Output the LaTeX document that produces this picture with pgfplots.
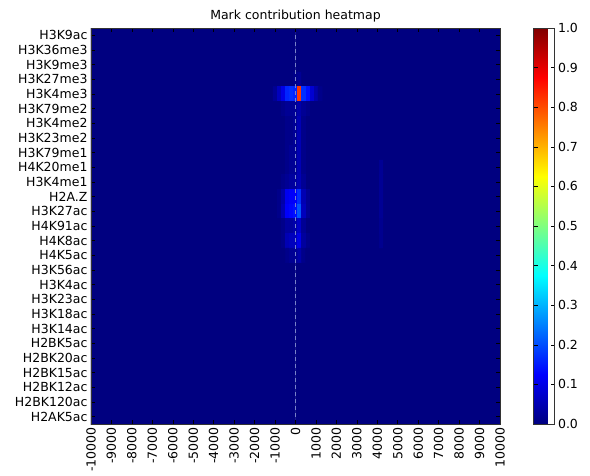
\documentclass[border=0pt]{standalone}
\usepackage{fontspec}
\setmainfont{DejaVu Sans}
\usepackage{pgfplots}
\pgfplotsset{compat=1.18}
\newcommand\lab{\fontsize{12.5}{15}\selectfont}
\pgfplotsset{/pgf/number format/assume math mode=true}
\definecolor{dashcol}{RGB}{120,130,200}
\begin{document}
\begin{tikzpicture}
\begin{axis}[
  name=main,
  scale only axis,
  width=409pt, height=396pt,
  xmin=-10000, xmax=10000,
  ymin=-0.5, ymax=26.5,
  y dir=reverse,
  enlargelimits=false,
  axis on top,
  colormap/jet,
  point meta min=0, point meta max=1,
  xtick={-10000,-9000,-8000,-7000,-6000,-5000,-4000,-3000,-2000,-1000,0,1000,2000,3000,4000,5000,6000,7000,8000,9000,10000},
  scaled x ticks=false,
  xticklabel style={rotate=90, anchor=east, font=\lab, /pgf/number format/.cd, fixed, set thousands separator={}},
  ytick={0,...,26},
  yticklabels={H3K9ac,H3K36me3,H3K9me3,H3K27me3,H3K4me3,H3K79me2,H3K4me2,H3K23me2,H3K79me1,H4K20me1,H3K4me1,H2A.Z,H3K27ac,H4K91ac,H4K8ac,H4K5ac,H3K56ac,H3K4ac,H3K23ac,H3K18ac,H3K14ac,H2BK5ac,H2BK20ac,H2BK15ac,H2BK12ac,H2BK120ac,H2AK5ac},
  yticklabel style={font=\lab},
  tick align=inside,
  major tick length=4pt,
  tick style={black, line width=0.5pt},
  axis line style={line width=0.6pt, black!80},
  title={Mark contribution heatmap},
  title style={font=\lab, yshift=-4pt},
  colorbar,
  colorbar style={
    width=21pt,
    at={(parent axis.north east)}, anchor=north west, xshift=25pt,
    ytick={0,0.1,0.2,0.3,0.4,0.5,0.6,0.7,0.8,0.9,1},
    yticklabel style={font=\lab, /pgf/number format/.cd, fixed, fixed zerofill, precision=1},
    tick align=inside, major tick length=4pt,
    axis line style={line width=0.6pt, black!80},
  },
]
% background (near-zero everywhere)
\addplot[matrix plot*, mesh/cols=2, point meta=explicit] table[x=x, y=y, meta=c] {
x y c
-5000 0 0.0
5000 0 0.0
-5000 26 0.0
5000 26 0.0
};
% region around the TSS (200 bp cells)
\addplot[matrix plot*, mesh/cols=12, point meta=explicit] table[x=x, y=y, meta=c] {
x y c
-1000 3 0
-800 3 0
-600 3 0
-400 3 0
-200 3 0
0 3 0.01
200 3 0.02
400 3 0
600 3 0
800 3 0
1000 3 0
1200 3 0
-1000 4 0.02
-800 4 0.06
-600 4 0.10
-400 4 0.16
-200 4 0.17
0 4 0.16
200 4 0.82
400 4 0.17
600 4 0.14
800 4 0.08
1000 4 0.04
1200 4 0.01
-1000 5 0
-800 5 0
-600 5 0.01
-400 5 0.02
-200 5 0.02
0 5 0.02
200 5 0.04
400 5 0.02
600 5 0.01
800 5 0
1000 5 0
1200 5 0
-1000 6 0
-800 6 0
-600 6 0
-400 6 0.01
-200 6 0.01
0 6 0.02
200 6 0.05
400 6 0.01
600 6 0
800 6 0
1000 6 0
1200 6 0
-1000 7 0
-800 7 0
-600 7 0
-400 7 0.01
-200 7 0.01
0 7 0.02
200 7 0.05
400 7 0.01
600 7 0
800 7 0
1000 7 0
1200 7 0
-1000 8 0
-800 8 0
-600 8 0
-400 8 0.01
-200 8 0.02
0 8 0.02
200 8 0.05
400 8 0.01
600 8 0
800 8 0
1000 8 0
1200 8 0
-1000 9 0
-800 9 0
-600 9 0
-400 9 0.01
-200 9 0.02
0 9 0.02
200 9 0.05
400 9 0.01
600 9 0
800 9 0
1000 9 0
1200 9 0
-1000 10 0
-800 10 0
-600 10 0.01
-400 10 0.02
-200 10 0.03
0 10 0.03
200 10 0.05
400 10 0.02
600 10 0
800 10 0
1000 10 0
1200 10 0
-1000 11 0
-800 11 0.01
-600 11 0.04
-400 11 0.11
-200 11 0.12
0 11 0.12
200 11 0.17
400 11 0.05
600 11 0.02
800 11 0
1000 11 0
1200 11 0
-1000 12 0
-800 12 0.01
-600 12 0.05
-400 12 0.12
-200 12 0.13
0 12 0.14
200 12 0.21
400 12 0.06
600 12 0.02
800 12 0
1000 12 0
1200 12 0
-1000 13 0
-800 13 0
-600 13 0.01
-400 13 0.03
-200 13 0.03
0 13 0.04
200 13 0.07
400 13 0.02
600 13 0
800 13 0
1000 13 0
1200 13 0
-1000 14 0
-800 14 0
-600 14 0.01
-400 14 0.05
-200 14 0.06
0 14 0.06
200 14 0.10
400 14 0.03
600 14 0.01
800 14 0
1000 14 0
1200 14 0
-1000 15 0
-800 15 0
-600 15 0
-400 15 0.01
-200 15 0.02
0 15 0.02
200 15 0.04
400 15 0.01
600 15 0
800 15 0
1000 15 0
1200 15 0
};
% faint streak near +4200
\addplot[matrix plot*, mesh/cols=3, point meta=explicit] table[x=x, y=y, meta=c] {
x y c
4000 9 0
4200 9 0.02
4400 9 0
4000 10 0
4200 10 0.02
4400 10 0
4000 11 0
4200 11 0.02
4400 11 0
4000 12 0
4200 12 0.02
4400 12 0
4000 13 0
4200 13 0.015
4400 13 0
4000 14 0
4200 14 0.015
4400 14 0
};
% dashed line at position 0
\addplot[dashcol, line width=0.9pt, dash pattern=on 4pt off 3pt] coordinates {(0,-0.5) (0,26.5)};
\end{axis}
\pgfresetboundingbox
\path ([xshift=-91pt,yshift=28pt]main.north west) rectangle ([xshift=90pt,yshift=-52pt]main.south east);
\end{tikzpicture}
\end{document}
